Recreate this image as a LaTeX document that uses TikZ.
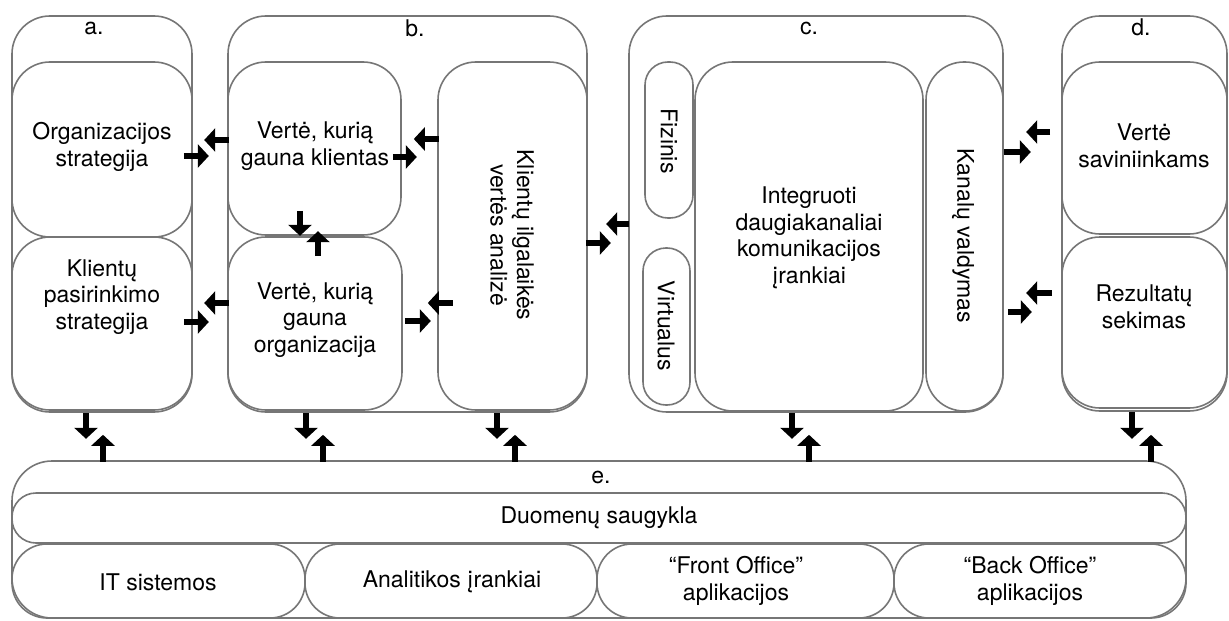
\documentclass[tikz,border=0pt]{standalone}
\usepackage{fontspec}
\setmainfont{TeX Gyre Heros}
\usetikzlibrary{arrows.meta,fit}

\definecolor{linegray}{RGB}{118,118,118}

\tikzset{
  frame/.style={draw=linegray, line width=0.8pt, rounded corners=19pt, inner sep=0pt},
  pill/.style={frame, rounded corners=11.5pt},
  band/.style={frame, rounded corners=12pt},
  slot/.style={frame, rounded corners=17.5pt},
  outer/.style={frame, rounded corners=20pt},
  txt/.style={align=center, inner sep=0pt, font=\fontsize{11.5}{13.25}\selectfont},
  flow/.style={line width=3.25pt, -{Triangle[length=5.5pt 0 0, width=11.5pt 0 0]}},
}

\begin{document}
\begin{tikzpicture}[x=0.5pt, y=-0.5pt]
\useasboundingbox (0,0) rectangle (1229,620);

% --- a. strategy column ---
\node[frame, fit={(12,16) (192,412)}] (A) {};
\node[frame, fit={(12,62) (192,237)}] (A1) {};
\node[frame, fit={(12,237) (192,410)}] (A2) {};
\node[txt] (la) at (94,28) {a.};
\node[txt] (tA1) at (102,147) {Organizacijos\\strategija};
\node[txt] (tA2) at (102,297) {Klientų\\pasirinkimo\\strategija};

% --- b. value column ---
\node[frame, fit={(228,16) (587,412)}] (B) {};
\node[frame, fit={(228,62) (401,235)}] (B1) {};
\node[frame, fit={(228,237) (402,410)}] (B2) {};
\node[frame, fit={(438,62) (587,410)}] (B3) {};
\node[txt] (lb) at (415,28) {b.};
\node[txt] (tB1) at (315,146) {Vertė, kurią\\gauna klientas};
\node[txt] (tB2) at (315,320) {Vertė, kurią\\gauna\\organizacija};
\node[txt, rotate=-90] (tB3) at (512,235) {Klientų ilgalaikės\\vertės analizė};

% --- c. channels ---
\node[frame, fit={(629,16) (1003,412)}] (C) {};
\node[pill, fit={(645,62) (693,218)}] (C1) {};
\node[pill, fit={(643,248) (690,405)}] (C2) {};
\node[frame, fit={(695,62) (923,411)}] (C3) {};
\node[frame, fit={(926,62) (1003,411)}] (C4) {};
\node[txt] (lc) at (809,28) {c.};
\node[txt, rotate=-90] (tC1) at (669,141) {Fizinis};
\node[txt, rotate=-90] (tC2) at (666,326) {Virtualus};
\node[txt] (tC3) at (809,238) {Integruoti\\daugiakanaliai\\komunikacijos\\įrankiai};
\node[txt, rotate=-90] (tC4) at (963,236) {Kanalų valdymas};

% --- d. owners ---
\node[frame, fit={(1062,16) (1227,411)}] (D) {};
\node[frame, fit={(1062,62) (1227,234)}] (D1) {};
\node[frame, fit={(1062,237) (1227,408)}] (D2) {};
\node[txt] (ld) at (1141,27) {d.};
\node[txt] (tD1) at (1144,146) {Vertė\\saviniinkams};
\node[txt] (tD2) at (1144,307) {Rezultatų\\sekimas};

% --- e. data layer ---
\node[outer, fit={(12,461) (1186,618)}] (E) {};
\node[band, fit={(12,493) (1186,543)}] (E1) {};
\node[slot, fit={(12,544) (305,618)}] (E2) {};
\node[slot, fit={(305,544) (597,618)}] (E3) {};
\node[slot, fit={(597,544) (894,618)}] (E4) {};
\node[slot, fit={(894,544) (1186,618)}] (E5) {};
\node[txt] (le) at (601,477) {e.};
\node[txt] (tE1) at (599,518) {Duomenų saugykla};
\node[txt] (tE2) at (158,582) {IT sistemos};
\node[txt] (tE3) at (452,582) {Analitikos įrankiai};
\node[txt] (tE4) at (736,581) {“Front Office”\\aplikacijos};
\node[txt] (tE5) at (1030,581) {“Back Office”\\aplikacijos};

% --- horizontal exchanges ---
\draw[flow] ([shift={(-9,6.5)}]A1.east) -- ([shift={(16,6.5)}]A1.east);
\draw[flow] ([shift={(2,-8.5)}]B1.west) -- ([shift={(-23,-8.5)}]B1.west);
\draw[flow] ([shift={(-9,8.5)}]B1.east) -- ([shift={(15,8.5)}]B1.east);
\draw[flow] ([shift={(37,-9.5)}]B1.east) -- ([shift={(12,-9.5)}]B1.east);
\draw[flow] ([shift={(-9,-1.5)}]A2.east) -- ([shift={(16,-1.5)}]A2.east);
\draw[flow] ([shift={(2,-20.5)}]B2.west) -- ([shift={(-23,-20.5)}]B2.west);
\draw[flow] ([shift={(2,-2.5)}]B2.east) -- ([shift={(28,-2.5)}]B2.east);
\draw[flow] ([shift={(50,-20.5)}]B2.east) -- ([shift={(25,-20.5)}]B2.east);
\draw[flow] ([shift={(-2,7)}]B3.east) -- ([shift={(23,7)}]B3.east);
\draw[flow] ([shift={(1,10)}]C.west) -- ([shift={(-22,10)}]C.west);
\draw[flow] ([shift={(0,-62)}]C.east) -- ([shift={(27,-62)}]C.east);
\draw[flow] ([shift={(-11,-16)}]D1.west) -- ([shift={(-35,-16)}]D1.west);
\draw[flow] ([shift={(4,98)}]C.east) -- ([shift={(28,98)}]C.east);
\draw[flow] ([shift={(-9,-29.5)}]D2.west) -- ([shift={(-35,-29.5)}]D2.west);

% --- vertical exchanges ---
\draw[flow] ([shift={(-14.5,-25)}]B1.south) -- ([shift={(-14.5,0)}]B1.south);
\draw[flow] ([shift={(3,20)}]B2.north) -- ([shift={(3,-5)}]B2.north);

\draw[flow] ([shift={(-16,0)}]A.south) -- ([shift={(-16,26)}]A.south);
\draw[flow] ([shift={(1,49)}]A.south) -- ([shift={(1,22)}]A.south);
\draw[flow] ([shift={(-9,2)}]B2.south) -- ([shift={(-9,28)}]B2.south);
\draw[flow] ([shift={(8,51)}]B2.south) -- ([shift={(8,24)}]B2.south);
\draw[flow] ([shift={(-15.5,2)}]B3.south) -- ([shift={(-15.5,28)}]B3.south);
\draw[flow] ([shift={(2.5,51)}]B3.south) -- ([shift={(2.5,24)}]B3.south);
\draw[flow] ([shift={(-24,0)}]C.south) -- ([shift={(-24,26)}]C.south);
\draw[flow] ([shift={(-7,49)}]C.south) -- ([shift={(-7,22)}]C.south);
\draw[flow] ([shift={(-12.5,0)}]D.south) -- ([shift={(-12.5,27)}]D.south);
\draw[flow] ([shift={(6.5,50)}]D.south) -- ([shift={(6.5,23)}]D.south);
\end{tikzpicture}
\end{document}
